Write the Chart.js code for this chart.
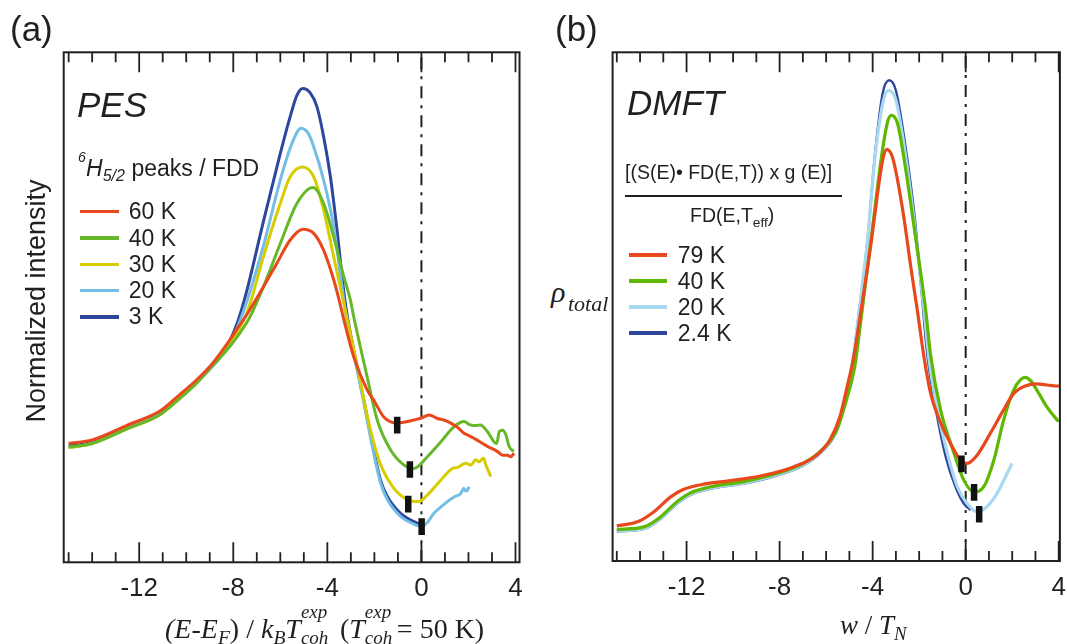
<!DOCTYPE html>
<html>
<head>
<meta charset="utf-8">
<script src="https://cdn.jsdelivr.net/npm/chart.js@4"></script>
<style>
  html, body { margin: 0; padding: 0; background: #fff; }
  body { width: 1067px; height: 644px; position: relative; overflow: hidden; }
  canvas { position: absolute; top: 0; }
  #chartA { left: 0; }
  #chartB { left: 597px; }
  .lab { position: absolute; white-space: nowrap; line-height: 1; color: #231f20;
         font-family: "Liberation Sans", Arial, sans-serif; }
  .serif { font-family: "Liberation Serif", "Times New Roman", serif; }
  .lab sub { font-size: 0.7em; line-height: 0; vertical-align: -0.33em; }
  .stk { display: inline-block; position: relative; height: 0; width: 32px; }
  .stk i { position: absolute; left: 0; line-height: 1; font-size: 19px; }
  .key { position: absolute; }
</style>
</head>
<body>
<canvas id="chartA" width="540" height="644"></canvas>
<canvas id="chartB" width="480" height="644"></canvas>
<script>
// ---- (a) PES ----
const pesLabels = ["60 K", "40 K", "30 K", "20 K", "3 K"];
const pesColors = ["#e8481c", "#66b82a", "#d7cc00", "#74bde4", "#2e479c"];

const pesX60 = [-15.0, -14.0, -12.5, -11.1, -10.3, -9.6, -8.9, -8.5, -8.1, -7.8, -7.42, -6.72, -6.15, -5.58, -5.04, -4.58, -4.16, -3.73, -3.52, -3.3, -2.88, -2.31, -2.03, -1.6, -1.03, -0.6, -0.32, 0.0, 0.32, 0.5, 0.68, 0.95, 1.25, 1.55, 1.81, 2.0, 2.24, 2.5, 2.81, 3.05, 3.24, 3.45, 3.66, 3.8, 3.94];
const pesY60 = [23.3, 24.0, 26.9, 29.7, 32.8, 35.6, 38.9, 41.3, 43.9, 46.0, 48.6, 54.0, 58.6, 63.2, 65.3, 64.5, 61.2, 55.4, 51.8, 47.6, 40.3, 33.8, 31.8, 28.5, 27.3, 27.6, 27.9, 28.3, 28.9, 28.6, 28.2, 27.9, 27.3, 26.4, 25.3, 24.9, 24.3, 23.6, 22.7, 22.2, 21.7, 21.0, 21.0, 20.7, 21.4];

const pesX40 = [-15.0, -14.0, -12.5, -11.1, -10.3, -9.6, -8.9, -8.5, -8.1, -7.7, -7.28, -6.72, -6.0, -5.29, -4.61, -4.16, -3.73, -3.3, -3.02, -2.88, -2.31, -1.88, -1.31, -0.75, -0.32, 0.25, 0.82, 1.39, 1.81, 2.05, 2.24, 2.5, 2.81, 3.09, 3.2, 3.31, 3.45, 3.59, 3.73, 3.92];
const pesY40 = [22.6, 23.3, 26.2, 29.0, 32.0, 34.9, 38.5, 40.4, 42.6, 45.1, 48.2, 54.0, 62.5, 70.4, 73.5, 70.4, 63.8, 56.0, 51.4, 48.2, 36.4, 27.9, 22.0, 19.1, 18.4, 20.7, 23.6, 26.6, 27.6, 27.0, 26.8, 26.9, 25.6, 23.6, 23.3, 25.6, 25.9, 25.0, 22.7, 21.7];

const pesX30 = [-15.0, -14.0, -12.5, -11.1, -10.3, -9.6, -8.9, -8.5, -8.1, -7.8, -7.5, -7.28, -6.72, -6.0, -5.58, -5.05, -4.58, -4.16, -3.73, -3.3, -2.73, -2.31, -2.03, -1.74, -1.17, -0.6, -0.11, 0.25, 0.82, 1.32, 1.53, 1.88, 2.1, 2.31, 2.45, 2.64, 2.74, 2.95];
const pesY30 = [22.5, 23.3, 26.2, 29.0, 32.1, 35.0, 38.6, 40.6, 42.9, 45.4, 48.0, 50.8, 59.9, 70.4, 75.6, 77.5, 75.6, 69.1, 59.9, 50.8, 38.5, 28.8, 23.5, 19.2, 14.5, 12.3, 11.9, 13.2, 16.1, 18.4, 18.6, 19.4, 19.1, 20.1, 19.7, 20.4, 19.1, 16.8];

const pesX20 = [-15.0, -14.0, -12.5, -11.1, -10.3, -9.6, -8.9, -8.5, -8.1, -7.8, -7.42, -6.72, -6.0, -5.5, -5.12, -4.8, -4.58, -4.16, -3.73, -3.45, -3.16, -2.88, -2.45, -2.03, -1.74, -1.45, -0.89, -0.46, 0.01, 0.25, 0.53, 0.82, 1.1, 1.39, 1.67, 1.8, 1.88, 1.95, 2.03];
const pesY20 = [22.5, 23.3, 26.3, 29.2, 32.1, 35.0, 38.3, 40.5, 43.3, 46.3, 51.2, 62.0, 75.0, 82.2, 85.1, 84.0, 81.5, 75.0, 65.8, 56.5, 47.0, 41.0, 31.3, 21.4, 15.6, 12.3, 9.0, 7.8, 7.0, 7.8, 9.6, 10.8, 11.9, 12.8, 13.5, 14.5, 14.0, 14.1, 14.8];

const pesX3 = [-15.0, -14.0, -12.5, -11.1, -10.3, -9.6, -8.9, -8.5, -8.1, -7.8, -7.42, -6.72, -6.0, -5.58, -5.29, -5.04, -4.72, -4.44, -4.16, -3.87, -3.59, -3.3, -3.16, -2.88, -2.45, -2.03, -1.74, -1.45, -0.89, -0.46, -0.03];
const pesY3 = [22.8, 23.5, 26.5, 29.4, 32.3, 35.2, 38.6, 40.9, 43.9, 47.3, 53.3, 66.8, 80.2, 87.4, 91.6, 92.9, 92.0, 89.3, 83.5, 75.6, 65.2, 53.0, 48.5, 41.6, 31.8, 22.0, 16.1, 12.9, 9.6, 8.3, 7.4];

// minimum markers (60, 40, 30, 20/3 K)
const pesMarkX = [-1.03, -0.49, -0.56, 0.01];
const pesMarkY = [26.9, 18.2, 11.4, 7.0];

// ---- (b) DMFT ----
const dmftLabels = ["79 K", "40 K", "20 K", "2.4 K"];
const dmftColors = ["#e8481c", "#5eb700", "#a9d9f1", "#2e479c"];

const dmftX79 = [-15.0, -14.11, -13.4, -12.68, -12.12, -11.26, -10.26, -8.83, -7.41, -6.41, -5.84, -5.41, -5.13, -4.84, -4.63, -4.07, -3.79, -3.57, -3.39, -3.15, -2.93, -2.64, -2.36, -2.07, -1.79, -1.51, -1.29, -1.0, -0.65, -0.22, 0.06, 0.49, 1.06, 1.63, 2.06, 2.56, 3.06, 3.5, 3.91, 4.1];
const dmftY79 = [6.9, 7.7, 9.7, 12.6, 14.1, 15.1, 15.7, 16.7, 18.5, 20.8, 23.8, 28.3, 33.6, 39.5, 45.4, 62.4, 72.2, 78.8, 80.9, 79.4, 74.9, 67.0, 57.8, 49.0, 40.0, 33.0, 29.7, 26.3, 23.1, 19.8, 19.2, 20.8, 25.1, 29.7, 32.9, 34.4, 34.8, 34.6, 34.4, 34.4];

const dmftX40 = [-15.0, -13.83, -13.11, -12.4, -11.83, -10.97, -9.55, -8.12, -6.98, -6.13, -5.55, -5.13, -4.77, -4.5, -4.0, -3.64, -3.36, -3.19, -2.93, -2.64, -2.22, -1.72, -1.51, -1.08, -0.5, -0.08, 0.35, 0.78, 1.21, 1.63, 2.06, 2.35, 2.56, 2.8, 3.06, 3.49, 3.99];
const dmftY40 = [6.2, 6.7, 8.7, 11.7, 13.4, 14.6, 15.6, 17.2, 19.2, 22.1, 25.7, 31.6, 38.2, 47.5, 65.7, 78.8, 86.3, 87.6, 86.0, 78.8, 65.7, 49.3, 40.5, 29.7, 21.2, 15.9, 13.6, 14.6, 19.8, 27.7, 33.6, 35.6, 36.1, 35.4, 33.6, 30.3, 27.4];

const dmftX20 = [-15.0, -13.83, -13.11, -12.4, -11.83, -10.97, -9.55, -8.12, -6.98, -6.13, -5.55, -5.13, -4.77, -4.64, -4.21, -3.93, -3.57, -3.32, -3.0, -2.64, -2.22, -1.79, -1.57, -1.22, -0.79, -0.36, 0.06, 0.49, 0.92, 1.35, 1.78, 1.99];
const dmftY20 = [5.9, 6.4, 8.4, 11.4, 13.1, 14.3, 15.3, 16.9, 18.9, 21.8, 25.6, 32.5, 42.0, 47.0, 63.5, 78.0, 89.9, 92.5, 90.6, 81.4, 67.0, 49.3, 39.5, 29.7, 21.2, 14.6, 11.3, 9.7, 10.7, 13.3, 17.2, 19.2];

const dmftX2 = [-15.0, -13.83, -13.11, -12.4, -11.83, -10.97, -9.55, -8.12, -6.98, -6.13, -5.55, -5.13, -4.77, -4.64, -4.21, -3.93, -3.57, -3.29, -3.0, -2.62, -2.19, -1.88, -1.65, -1.29, -0.86, -0.44, -0.08, 0.21];
const dmftY2 = [5.8, 6.3, 8.3, 11.3, 13.0, 14.2, 15.2, 16.8, 18.8, 21.7, 25.5, 32.4, 41.9, 46.9, 63.4, 78.5, 91.9, 94.5, 92.5, 82.5, 67.5, 52.0, 40.5, 30.0, 20.5, 14.6, 11.3, 10.0];

const dmftMarkX = [-0.18, 0.36, 0.58];
const dmftMarkY = [19.1, 13.5, 9.2];

// x axis ticks, shared by both panels
const tickValues = [-15, -14, -13, -12, -11, -10, -9, -8, -7, -6, -5, -4, -3, -2, -1, 0, 1, 2, 3, 4];
const majorTicks = [-12, -8, -4, 0, 4];

const ink = "#231f20";

function pts(xs, ys) {
    return xs.map((x, i) => ({ x: x, y: ys[i] }));
}

function curve(label, xs, ys, color, width) {
    return {
        label: label,
        data: pts(xs, ys),
        borderColor: color,
        borderWidth: width || 3,
        pointRadius: 0,
        cubicInterpolationMode: "monotone",
        fill: false
    };
}

function markers(xs, ys) {
    return {
        label: "min",
        data: pts(xs, ys),
        showLine: false,
        pointStyle: "line",
        pointRotation: 90,
        pointRadius: 8.3,
        pointBorderWidth: 6.5,
        pointBorderColor: "#111",
        pointBackgroundColor: "#111"
    };
}

function zeroLine() {
    return {
        label: "EF",
        data: [{ x: 0, y: 0 }, { x: 0, y: 100 }],
        borderColor: ink,
        borderWidth: 2,
        borderDash: [12, 7, 3, 7],
        pointRadius: 0,
        tension: 0
    };
}

// box with inward ticks on top and bottom
const frameTicks = {
    id: "frameTicks",
    afterDatasetsDraw(chart) {
        const ctx = chart.ctx;
        const a = chart.chartArea;
        const x = chart.scales.x;
        ctx.save();
        ctx.strokeStyle = ink;
        ctx.lineWidth = 2;
        ctx.strokeRect(a.left, a.top, a.right - a.left, a.bottom - a.top);
        ctx.lineWidth = 1.8;
        x.ticks.forEach(t => {
            const px = x.getPixelForValue(t.value);
            const len = majorTicks.includes(t.value) ? 20 : 10;
            ctx.beginPath();
            ctx.moveTo(px, a.bottom);
            ctx.lineTo(px, a.bottom - len);
            ctx.moveTo(px, a.top);
            ctx.lineTo(px, a.top + len);
            ctx.stroke();
        });
        ctx.restore();
    }
};

function makeChart(id, datasets, xmin, xmax, pad) {
    return new Chart(document.getElementById(id), {
        type: "line",
        data: { datasets: datasets },
        options: {
            responsive: false,
            animation: false,
            events: [],
            layout: { padding: pad },
            plugins: { legend: { display: false }, tooltip: { enabled: false } },
            scales: {
                x: {
                    type: "linear",
                    min: xmin,
                    max: xmax,
                    afterBuildTicks: s => { s.ticks = tickValues.map(v => ({ value: v })); },
                    grid: { display: false, drawTicks: false },
                    border: { display: false },
                    ticks: {
                        autoSkip: false,
                        maxRotation: 0,
                        padding: 11,
                        color: ink,
                        font: { family: "Liberation Sans", size: 26 },
                        callback: v => majorTicks.includes(v) ? String(v) : ""
                    }
                },
                y: { min: 0, max: 100, display: false }
            }
        },
        plugins: [frameTicks]
    });
}

const pesSets = [
    markers(pesMarkX, pesMarkY),
    curve(pesLabels[0], pesX60, pesY60, pesColors[0]),
    curve(pesLabels[1], pesX40, pesY40, pesColors[1]),
    curve(pesLabels[2], pesX30, pesY30, pesColors[2]),
    curve(pesLabels[3], pesX20, pesY20, pesColors[3]),
    curve(pesLabels[4], pesX3, pesY3, pesColors[4]),
    zeroLine()
];
makeChart("chartA", pesSets, -15.21, 4.17, { left: 63.7, right: 20.5, top: 52.3, bottom: 28.5 });

const dmftSets = [
    markers(dmftMarkX, dmftMarkY),
    curve(dmftLabels[0], dmftX79, dmftY79, dmftColors[0], 3.2),
    curve(dmftLabels[1], dmftX40, dmftY40, dmftColors[1], 3.2),
    curve(dmftLabels[2], dmftX20, dmftY20, dmftColors[2], 3.2),
    curve(dmftLabels[3], dmftX2, dmftY2, dmftColors[3], 2.4),
    zeroLine()
];
makeChart("chartB", dmftSets, -15.18, 4.05, { left: 15.6, right: 17, top: 52.3, bottom: 29.8 });

// ---- text, legends ----
function put(html, x, base, size, cls) {
    const d = document.createElement("div");
    d.className = "lab " + (cls || "");
    d.innerHTML = html;
    const asc = (cls || "").includes("serif") ? 0.8375 : 0.8465;
    d.style.left = x + "px";
    d.style.top = (base - asc * size) + "px";
    d.style.fontSize = size + "px";
    document.body.appendChild(d);
    return d;
}

function legend(labels, colors, x0, x1, y0, step, tx, thick) {
    labels.forEach((t, i) => {
        const y = y0 + i * step;
        const k = document.createElement("div");
        k.className = "key";
        k.style.left = x0 + "px";
        k.style.width = (x1 - x0) + "px";
        k.style.top = (y - thick / 2) + "px";
        k.style.height = thick + "px";
        k.style.background = colors[i];
        document.body.appendChild(k);
        put(t, tx, y + 8, 23);
    });
}

put("(a)", 10, 40.6, 35);
put("(b)", 555, 40.6, 35);

put("<i>PES</i>", 77, 116.7, 35);
put("<i>6</i>", 78, 161.7, 14);
put("<i>H<sub>5/2</sub></i> peaks / FDD", 86, 176.7, 23);
legend(pesLabels, pesColors, 79.6, 118.7, 211.7, 26.3, 128.8, 3.5);

const yTitle = document.createElement("div");
yTitle.className = "lab";
yTitle.textContent = "Normalized intensity";
yTitle.style.fontSize = "27px";
yTitle.style.left = "35.6px";
yTitle.style.top = "301px";
yTitle.style.transform = "translate(-50%, -50%) rotate(-90deg)";
document.body.appendChild(yTitle);

const stack = '<span class="stk"><i style="bottom:16.6px">exp</i><i style="top:-9.9px">coh</i></span>';
put("<i>(E</i>-<i>E<sub>F</sub></i>) / <i>k<sub>B</sub>T</i>" + stack +
    " (<i>T</i>" + stack + "= 50 K)", 165, 638, 28, "serif");

put("<i>DMFT</i>", 627, 115, 35);
put("[(S(E)• FD(E,T)) x g (E)]", 625, 180, 19.5);
const bar = document.createElement("div");
bar.className = "key";
bar.style.cssText = "left:624.5px;top:195px;width:217px;height:1.8px;background:" + ink;
document.body.appendChild(bar);
put("FD(E,T<sub>eff</sub>)", 690, 222.7, 19.5);
legend(dmftLabels, dmftColors, 628.5, 667.4, 255, 26.1, 677.8, 4);

put("<i>ρ</i>", 551, 302, 30, "serif");
put("<i>total</i>", 568, 311.7, 22, "serif");
put("<i>w</i> / <i>T<sub>N</sub></i>", 840, 635, 27, "serif");
</script>
</body>
</html>
